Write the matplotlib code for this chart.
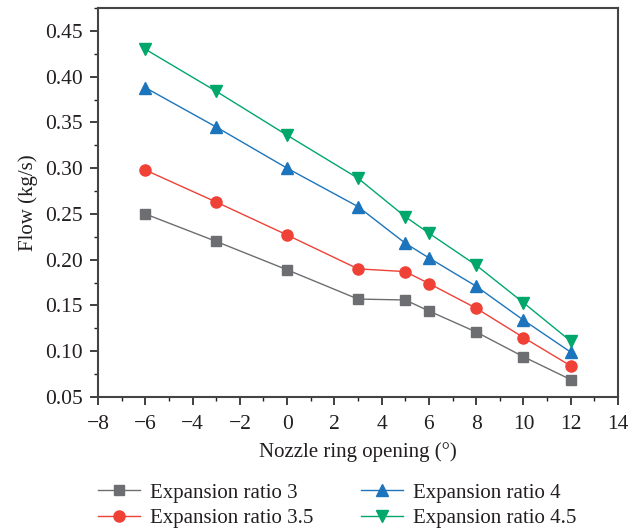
import matplotlib
matplotlib.use("Agg")
import matplotlib.pyplot as plt
from matplotlib.ticker import MultipleLocator

x = [-6, -3, 0, 3, 5, 6, 8, 10, 12]
er3 = [0.250, 0.220, 0.189, 0.157, 0.156, 0.144, 0.121, 0.094, 0.069]
er35 = [0.298, 0.263, 0.227, 0.190, 0.187, 0.174, 0.147, 0.115, 0.084]
er4 = [0.388, 0.345, 0.300, 0.258, 0.218, 0.202, 0.171, 0.134, 0.099]
er45 = [0.430, 0.384, 0.336, 0.289, 0.247, 0.229, 0.194, 0.153, 0.111]
labels = ["Expansion ratio 3", "Expansion ratio 3.5", "Expansion ratio 4", "Expansion ratio 4.5"]
yticks = [0.05, 0.10, 0.15, 0.20, 0.25, 0.30, 0.35, 0.40, 0.45]
xticks = [-8, -6, -4, -2, 0, 2, 4, 6, 8, 10, 12, 14]

plt.rcParams['font.family'] = ['Liberation Serif', 'DejaVu Serif']

fig = plt.figure(figsize=(6.43, 5.3), dpi=100)
ax = fig.add_axes([98/643, 1-397/530, (618-98)/643, (397-8)/530])

styles = [
    (er3, '#6d6e71', 's', 7),
    (er35, '#ef4136', 'o', 8),
    (er4, '#1c75bc', '^', 9),
    (er45, '#00a76b', 'v', 9),
]
handles = []
for (y, c, m, ms), lab in zip(styles, labels):
    h, = ax.plot(x, y, color=c, marker=m, markersize=ms, lw=1.0, label=lab)
    handles.append(h)

ax.set_xlim(-8, 14)
ax.set_ylim(0.05, 0.475)
ax.set_xticks(xticks)
ax.set_xticklabels([f"{v}".replace('-', '\u2212') for v in xticks])
ax.xaxis.set_minor_locator(MultipleLocator(1))
ax.set_yticks(yticks)
ax.set_yticklabels([f"{v:.2f}" for v in yticks])
ax.yaxis.set_minor_locator(MultipleLocator(0.025))
ax.tick_params(axis='both', which='major', direction='out', length=6, width=1.2, labelsize=15.5, colors='#231f20')
ax.tick_params(axis='x', which='major', pad=7)
ax.tick_params(axis='y', which='major', pad=5)
ax.tick_params(axis='both', which='minor', direction='out', length=3, width=1.0, colors='#231f20')
for s in ax.spines.values():
    s.set_linewidth(1.5)
    s.set_color('#444444')
ax.set_xlabel("Nozzle ring opening (°)", fontsize=15, color='#231f20', labelpad=6)
ax.set_ylabel("Flow (kg/s)", fontsize=15, color='#231f20', labelpad=5)

leg = fig.legend(handles=handles,
                 loc='upper left', bbox_to_anchor=(98/643, 1-483/530), ncol=2,
                 frameon=False, fontsize=15, columnspacing=2.3, handlelength=2.0,
                 handletextpad=0.5, labelspacing=0.3, borderaxespad=0, borderpad=0)
for t in leg.get_texts():
    t.set_color('#231f20')

fig.savefig("out.png", dpi=100)
